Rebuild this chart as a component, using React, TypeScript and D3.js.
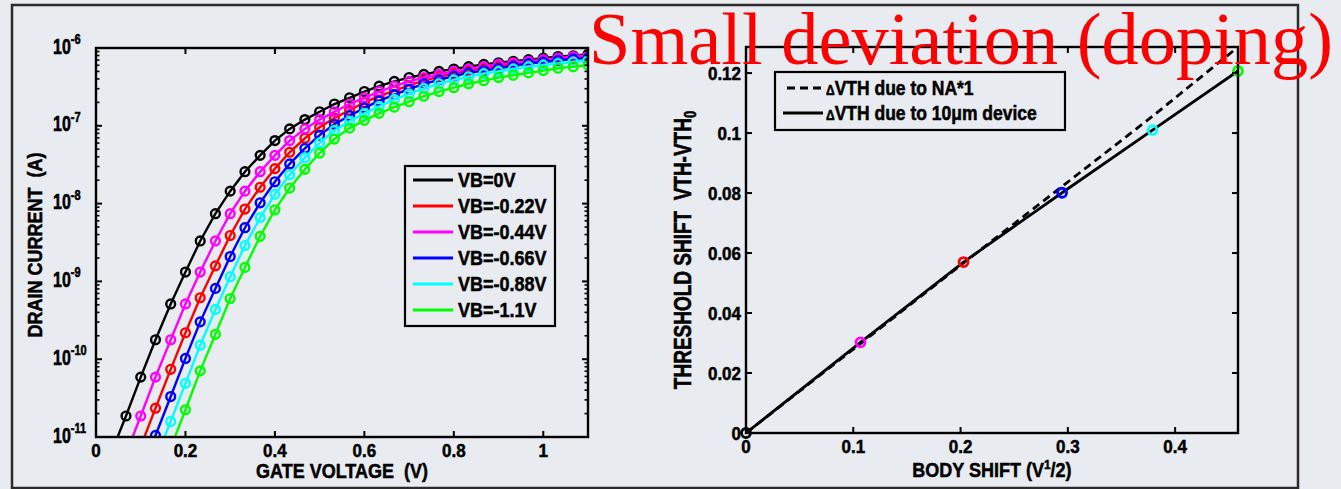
import React from "react";
import * as d3 from "d3";

// ---------- Left panel data: drain current (log10 A) vs gate voltage ----------
const GATE_VOLTAGE = [
  0.033, 0.067, 0.1, 0.133, 0.167, 0.2, 0.233, 0.267, 0.3, 0.333, 0.367, 0.4,
  0.433, 0.467, 0.5, 0.533, 0.567, 0.6, 0.633, 0.667, 0.7, 0.733, 0.767, 0.8,
  0.833, 0.867, 0.9, 0.933, 0.967, 1.0, 1.033, 1.067, 1.1,
];
const LOG_ID_VB0 = [
  -11.22, -10.73, -10.23, -9.75, -9.29, -8.88, -8.48, -8.13, -7.84, -7.59, -7.38,
  -7.19, -7.04, -6.92, -6.82, -6.72, -6.64, -6.56, -6.49, -6.43, -6.38, -6.34,
  -6.3, -6.27, -6.24, -6.21, -6.19, -6.17, -6.15, -6.13, -6.11, -6.1, -6.08,
];
const LOG_ID_VB022 = [
  null, -11.61, -11.12, -10.63, -10.13, -9.66, -9.21, -8.8, -8.41, -8.07, -7.79,
  -7.55, -7.34, -7.16, -7.02, -6.9, -6.8, -6.7, -6.62, -6.55, -6.48, -6.42,
  -6.37, -6.33, -6.29, -6.26, -6.23, -6.21, -6.18, -6.16, -6.14, -6.13, -6.11,
];
const LOG_ID_VB044 = [
  -11.71, -11.22, -10.73, -10.23, -9.75, -9.29, -8.88, -8.48, -8.13, -7.84, -7.59,
  -7.38, -7.19, -7.04, -6.92, -6.82, -6.72, -6.64, -6.56, -6.49, -6.43, -6.38,
  -6.34, -6.3, -6.27, -6.24, -6.21, -6.19, -6.17, -6.15, -6.13, -6.11, -6.1,
];
const LOG_ID_VB066 = [
  null, null, -11.47, -10.98, -10.48, -9.99, -9.52, -9.09, -8.68, -8.31, -7.99,
  -7.72, -7.49, -7.29, -7.12, -6.98, -6.87, -6.77, -6.68, -6.6, -6.53, -6.46,
  -6.41, -6.36, -6.32, -6.29, -6.26, -6.23, -6.2, -6.18, -6.16, -6.14, -6.13,
];
const LOG_ID_VB088 = [
  null, null, null, -11.29, -10.8, -10.31, -9.82, -9.36, -8.94, -8.54, -8.18,
  -7.88, -7.63, -7.41, -7.22, -7.06, -6.94, -6.84, -6.75, -6.66, -6.59, -6.52,
  -6.46, -6.41, -6.37, -6.33, -6.3, -6.27, -6.24, -6.22, -6.2, -6.18, -6.16,
];
const LOG_ID_VB110 = [
  null, null, null, -11.63, -11.14, -10.65, -10.15, -9.68, -9.22, -8.82, -8.42,
  -8.08, -7.8, -7.56, -7.35, -7.17, -7.03, -6.93, -6.84, -6.76, -6.69, -6.62,
  -6.56, -6.51, -6.46, -6.42, -6.38, -6.35, -6.32, -6.29, -6.26, -6.24, -6.22,
];
const LEFT_LABELS = ["VB=0V", "VB=-0.22V", "VB=-0.44V", "VB=-0.66V", "VB=-0.88V", "VB=-1.1V"];
const LEFT_SERIES = [LOG_ID_VB0, LOG_ID_VB022, LOG_ID_VB044, LOG_ID_VB066, LOG_ID_VB088, LOG_ID_VB110];
const LEFT_COLORS = ["#000000", "#ff0000", "#ff00ff", "#0000ff", "#00ffff", "#00ff00"];
const LEFT_X_TICKS = [0, 0.2, 0.4, 0.6, 0.8, 1];
const LEFT_X_TICK_LABELS = ["0", "0.2", "0.4", "0.6", "0.8", "1"];
const LEFT_Y_EXPONENTS = [-11, -10, -9, -8, -7, -6];

// ---------- Right panel data: threshold shift vs body shift ----------
const BODY_SHIFT = [0, 0.1067, 0.2028, 0.2946, 0.3789, 0.4586];
const DVTH_10UM = [0, 0.0302, 0.057, 0.0801, 0.101, 0.1207];
const DVTH_NA = [0, 0.0298, 0.0567, 0.0822, 0.1056, 0.1287];
const POINT_COLORS = ["#000000", "#ff00ff", "#ff0000", "#0000ff", "#00ffff", "#00ff00"];
const RIGHT_X_TICKS = [0, 0.1, 0.2, 0.3, 0.4];
const RIGHT_X_TICK_LABELS = ["0", "0.1", "0.2", "0.3", "0.4"];
const RIGHT_Y_TICKS = [0, 0.02, 0.04, 0.06, 0.08, 0.1, 0.12];
const RIGHT_Y_TICK_LABELS = ["0", "0.02", "0.04", "0.06", "0.08", "0.1", "0.12"];

const FONT = "'Liberation Sans', Arial, Helvetica, sans-serif";
const BG = "#e8ebef";

function T(props: any) {
  const { x, y, size, sy = 1, rot = 0, anchor = "start", fill = "#000", weight = "bold", family = FONT, children } = props;
  return (
    <text
      transform={`translate(${x},${y}) rotate(${rot}) scale(1,${sy})`}
      fontSize={size}
      textAnchor={anchor}
      fontFamily={family}
      fontWeight={weight}
      fill={fill}
      stroke={fill}
      strokeWidth={0.45}
    >
      {children}
    </text>
  );
}

function LeftPanel() {
  const L = 96, R = 588, Tp = 48, B = 437;
  const x = d3.scaleLinear().domain([0, 1.1]).range([L, R]);
  const y = d3.scaleLog().domain([1e-11, 1e-6]).range([B, Tp]);
  const line = d3
    .line<[number, number]>()
    .x((d) => x(d[0]))
    .y((d) => y(Math.pow(10, d[1])));
  const minor: number[] = [];
  for (const e of [-11, -10, -9, -8, -7]) for (const m of [2, 3, 4, 5, 6, 7, 8, 9]) minor.push(m * Math.pow(10, e));
  return (
    <g>
      <defs>
        <clipPath id="clipL">
          <rect x={L} y={Tp} width={R - L} height={B - Tp} />
        </clipPath>
      </defs>
      <g clipPath="url(#clipL)">
        {LEFT_SERIES.map((s, i) => {
          const pts = GATE_VOLTAGE.map((v, k) => [v, s[k]] as [number, number]).filter((p) => p[1] !== null);
          return (
            <g key={i}>
              <path d={line(pts) || ""} fill="none" stroke={LEFT_COLORS[i]} strokeWidth={2.4} />
              {pts.map((p, k) => (
                <circle key={k} cx={x(p[0])} cy={y(Math.pow(10, p[1]))} r={4.4} fill="none" stroke={LEFT_COLORS[i]} strokeWidth={2.4} />
              ))}
            </g>
          );
        })}
      </g>
      {/* axes box */}
      <rect x={L} y={Tp} width={R - L} height={B - Tp} fill="none" stroke="#000" strokeWidth={2.4} />
      {LEFT_X_TICKS.map((t, i) => (
        <g key={i}>
          <line x1={x(t)} x2={x(t)} y1={B} y2={B - 6} stroke="#000" strokeWidth={2} />
          <line x1={x(t)} x2={x(t)} y1={Tp} y2={Tp + 6} stroke="#000" strokeWidth={2} />
          <T x={x(t)} y={457} size={17} sy={1.1} anchor="middle">{LEFT_X_TICK_LABELS[i]}</T>
        </g>
      ))}
      {LEFT_Y_EXPONENTS.map((e, i) => {
        const yy = y(Math.pow(10, e));
        return (
          <g key={i}>
            <line x1={L} x2={L + 6} y1={yy} y2={yy} stroke="#000" strokeWidth={2} />
            <line x1={R} x2={R - 6} y1={yy} y2={yy} stroke="#000" strokeWidth={2} />
            <T x={53} y={yy + 5.5} size={16} sy={1.35}>
              10
              <tspan dy={-7} fontSize={11}>{`${e}`}</tspan>
            </T>
          </g>
        );
      })}
      {minor.map((v, i) => (
        <g key={i}>
          <line x1={L} x2={L + 3.5} y1={y(v)} y2={y(v)} stroke="#000" strokeWidth={1.6} />
          <line x1={R} x2={R - 3.5} y1={y(v)} y2={y(v)} stroke="#000" strokeWidth={1.6} />
        </g>
      ))}
      <T x={42} y={245} size={18} sy={1.15} rot={-90} anchor="middle">DRAIN CURRENT{"\u00a0\u00a0"}(A)</T>
      <T x={(L + R) / 2} y={478} size={18} sy={1.15} anchor="middle">GATE VOLTAGE{"\u00a0\u00a0"}(V)</T>
      {/* legend */}
      <rect x={405} y={166} width={150} height={160} fill={BG} stroke="#000" strokeWidth={2.2} />
      {LEFT_LABELS.map((lab, i) => {
        const yy = 180 + i * 26;
        return (
          <g key={i}>
            <line x1={413} x2={453} y1={yy} y2={yy} stroke={LEFT_COLORS[i]} strokeWidth={3} />
            <T x={458} y={yy + 7} size={18} sy={1.15}>{lab}</T>
          </g>
        );
      })}
    </g>
  );
}

function RightPanel() {
  const L = 746, R = 1238, Tp = 47, B = 433;
  const x = d3.scaleLinear().domain([0, 0.4586]).range([L, R]);
  const y = d3.scaleLinear().domain([0, 0.1287]).range([B, Tp]);
  const line = d3
    .line<number>()
    .x((_, i) => x(BODY_SHIFT[i]))
    .y((d) => y(d));
  return (
    <g>
      <defs>
        <clipPath id="clipR">
          <rect x={L} y={Tp} width={R - L} height={B - Tp} />
        </clipPath>
      </defs>
      <g clipPath="url(#clipR)">
        <path d={line(DVTH_NA) || ""} fill="none" stroke="#000" strokeWidth={2.8} strokeDasharray="8,5" />
        <path d={line(DVTH_10UM) || ""} fill="none" stroke="#000" strokeWidth={2.8} />
      </g>
      {BODY_SHIFT.map((b, i) => (
        <circle key={i} cx={x(b)} cy={y(DVTH_10UM[i])} r={4.5} fill="none" stroke={POINT_COLORS[i]} strokeWidth={2.8} />
      ))}
      <rect x={L} y={Tp} width={R - L} height={B - Tp} fill="none" stroke="#000" strokeWidth={2.4} />
      {RIGHT_X_TICKS.map((t, i) => (
        <g key={i}>
          <line x1={x(t)} x2={x(t)} y1={B} y2={B - 6} stroke="#000" strokeWidth={2} />
          <line x1={x(t)} x2={x(t)} y1={Tp} y2={Tp + 6} stroke="#000" strokeWidth={2} />
          <T x={x(t)} y={453} size={17} sy={1.1} anchor="middle">{RIGHT_X_TICK_LABELS[i]}</T>
        </g>
      ))}
      {RIGHT_Y_TICKS.map((t, i) => (
        <g key={i}>
          <line x1={L} x2={L + 6} y1={y(t)} y2={y(t)} stroke="#000" strokeWidth={2} />
          <line x1={R} x2={R - 6} y1={y(t)} y2={y(t)} stroke="#000" strokeWidth={2} />
          <T x={741} y={y(t) + 7} size={17} sy={1.1} anchor="end">{RIGHT_Y_TICK_LABELS[i]}</T>
        </g>
      ))}
      <T x={691} y={250} size={19} sy={1.3} rot={-90} anchor="middle">
        THRESHOLD SHIFT{"\u00a0\u00a0"}VTH-VTH
        <tspan dy={4} fontSize={13}>0</tspan>
      </T>
      <T x={(L + R) / 2} y={477} size={18} sy={1.1} anchor="middle">
        BODY SHIFT (V
        <tspan dy={-7} fontSize={12}>1</tspan>
        <tspan dy={7}>/2)</tspan>
      </T>
      {/* legend */}
      <rect x={775} y={72} width={290} height={58} fill={BG} stroke="#000" strokeWidth={2.2} />
      <line x1={787} x2={823} y1={88} y2={88} stroke="#000" strokeWidth={2.8} strokeDasharray="8,5" />
      <T x={826} y={95} size={17.5} sy={1.2}>
        <tspan fontSize={12}>Δ</tspan>VTH due to NA*1
      </T>
      <line x1={783} x2={823} y1={113} y2={113} stroke="#000" strokeWidth={2.8} />
      <T x={826} y={120} size={17.5} sy={1.2}>
        <tspan fontSize={12}>Δ</tspan>VTH due to 10μm device
      </T>
    </g>
  );
}

export default function App() {
  return (
    <svg
      width={1341}
      height={489}
      style={{ position: "absolute", left: 0, top: 0, display: "block" }}
    >
      <rect x={0} y={0} width={1341} height={489} fill={BG} />
      <rect x={12} y={5} width={1286} height={483} fill="none" stroke="#2b2b2b" strokeWidth={2.5} />
      <LeftPanel />
      <RightPanel />
      <text
        x={589}
        y={64}
        fontFamily="'Liberation Serif', 'Times New Roman', serif"
        fontSize={75}
        fill="#ff0000"
        textLength={744}
        lengthAdjust="spacingAndGlyphs"
      >
        Small deviation (doping)
      </text>
    </svg>
  );
}
